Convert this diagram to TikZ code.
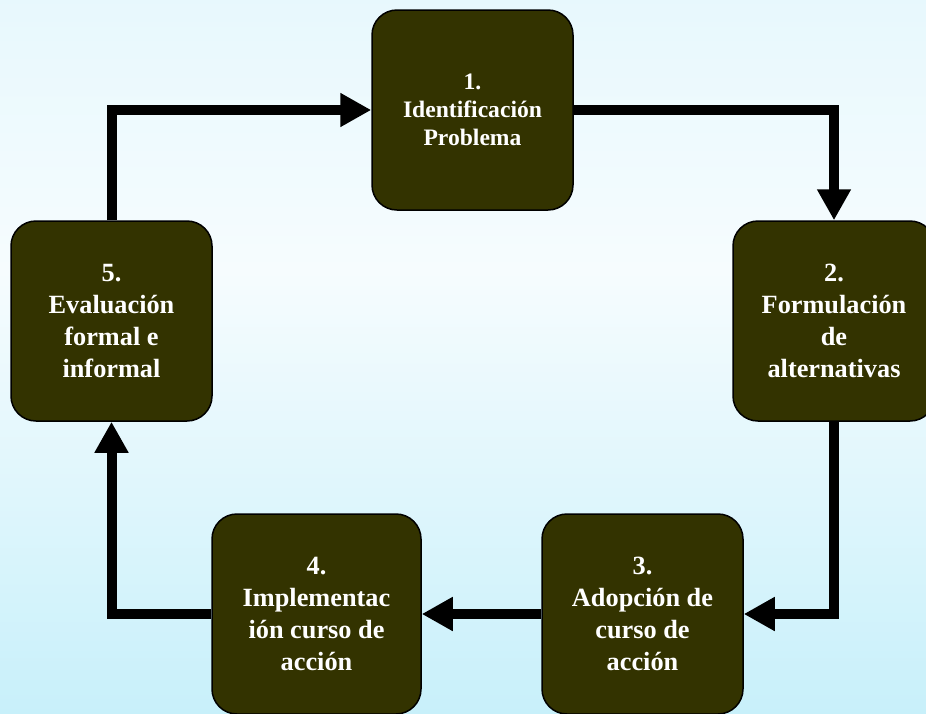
\documentclass[tikz,border=0pt]{standalone}
\usepackage{fontspec}
\setmainfont{Liberation Serif}
\usetikzlibrary{arrows.meta}
\definecolor{bgtop}{RGB}{212,243,252}
\definecolor{bgmid}{RGB}{246,252,254}
\definecolor{bglow}{RGB}{200,240,250}
\definecolor{bgbot}{RGB}{165,230,247}
\definecolor{boxfill}{RGB}{51,51,0}
\pgfdeclareverticalshading{bgshade}{100bp}{color(0bp)=(bgbot); color(25bp)=(bglow); color(56bp)=(bgmid); color(100bp)=(bgtop)}
\tikzset{
  stepbox/.style={draw=black, line width=1.5pt, fill=boxfill, rounded corners=25pt,
    minimum width=201pt, minimum height=200pt, inner sep=0pt, text=white, align=center,
    font=\bfseries\fontsize{26.3}{32}\selectfont},
  flow/.style={line width=10pt, draw=black, -{Triangle[length=31pt,width=32pt]}}
}
\begin{document}
\begin{tikzpicture}[x=1pt,y=-1pt]
\clip (0,0) rectangle (926,713);
\fill[shading=bgshade] (0,0) rectangle (926,713);
\node[stepbox, font=\bfseries\fontsize{23.6}{28.3}\selectfont] (b1) at (472.5,110) {1.\\Identificación\\Problema};
\node[stepbox, minimum width=202pt] (b2) at (834,321) {2.\\Formulación\\de\\alternativas};
\node[stepbox] (b3) at (642.5,614) {3.\\Adopción de\\curso de\\acción};
\node[stepbox, minimum width=209pt] (b4) at (316.5,614) {4.\\Implementac\\ión curso de\\acción};
\node[stepbox] (b5) at (111.5,321) {5.\\Evaluación\\formal e\\informal};
\draw[flow] (b5.north) |- (b1.west);
\draw[flow] (b1.east) -| (b2.north);
\draw[flow] (b2.south) |- (b3.east);
\draw[flow] (b3.west) -- (b4.east);
\draw[flow] (b4.west) -| (b5.south);
\end{tikzpicture}
\end{document}
